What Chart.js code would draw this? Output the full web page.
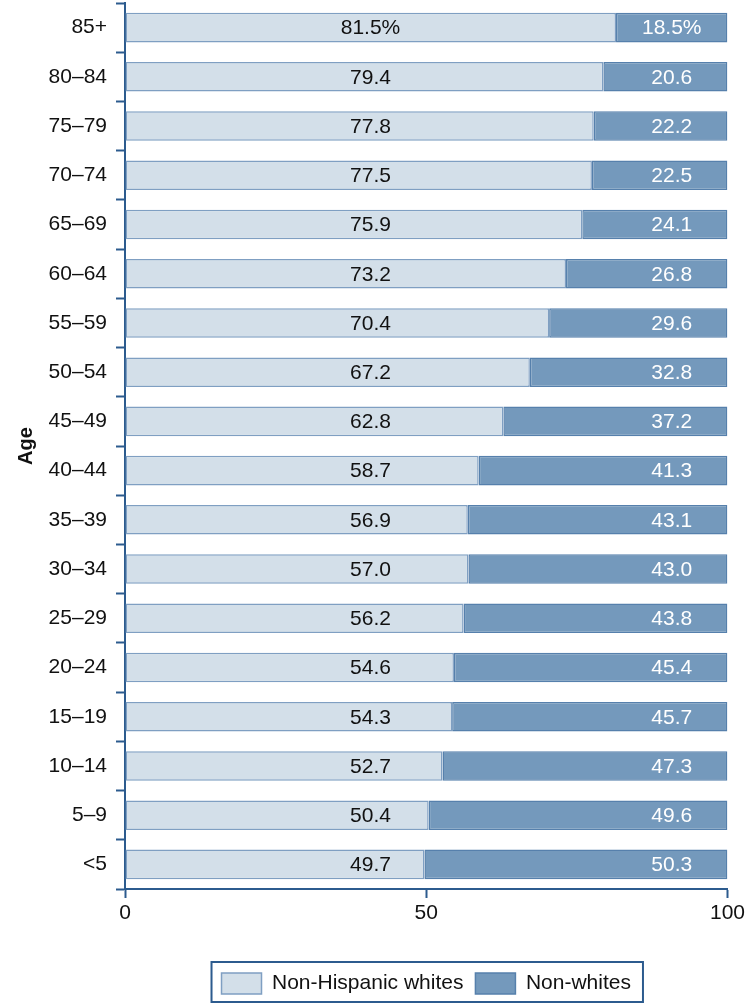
<!DOCTYPE html>
<html lang="en">
<head>
    <meta charset="UTF-8">
    <title>Age by race</title>
    <script src="https://cdn.jsdelivr.net/npm/chart.js"></script>
    <style>
        html, body { margin: 0; padding: 0; background: #fff; }
        #wrap { width: 748px; height: 1004px; }
    </style>
</head>
<body>
    <div id="wrap"><canvas id="ageChart" width="748" height="1004"></canvas></div>

    <script>
        const ageGroups = ['85+', '80\u201384', '75\u201379', '70\u201374', '65\u201369', '60\u201364', '55\u201359', '50\u201354',
            '45\u201349', '40\u201344', '35\u201339', '30\u201334', '25\u201329', '20\u201324', '15\u201319', '10\u201314', '5\u20139', '<5'];
        const nonHispanicWhites = [81.5, 79.4, 77.8, 77.5, 75.9, 73.2, 70.4, 67.2, 62.8, 58.7, 56.9, 57.0, 56.2, 54.6, 54.3, 52.7, 50.4, 49.7];
        const nonWhites = [18.5, 20.6, 22.2, 22.5, 24.1, 26.8, 29.6, 32.8, 37.2, 41.3, 43.1, 43.0, 43.8, 45.4, 45.7, 47.3, 49.6, 50.3];
        const xTicks = [0, 50, 100];

        const axisColor = '#2c5b8e';
        const font = { family: "'Liberation Sans', Arial, Helvetica, sans-serif", size: 21 };

        // value labels sit at the centres of the top row's two segments
        const barLabels = {
            id: 'barLabels',
            afterDatasetsDraw(chart) {
                const ctx = chart.ctx;
                const x = chart.scales.x;
                const leftX = x.getPixelForValue(nonHispanicWhites[0] / 2);
                const rightX = x.getPixelForValue(nonHispanicWhites[0] + nonWhites[0] / 2);
                const meta = chart.getDatasetMeta(0);
                ctx.save();
                ctx.font = `${font.size}px ${font.family}`;
                ctx.textAlign = 'center';
                ctx.textBaseline = 'middle';
                meta.data.forEach((bar, i) => {
                    const suffix = i === 0 ? '%' : '';
                    ctx.fillStyle = '#111';
                    ctx.fillText(nonHispanicWhites[i].toFixed(1) + suffix, leftX, bar.y + 1);
                    ctx.fillStyle = '#fff';
                    ctx.fillText(nonWhites[i].toFixed(1) + suffix, rightX, bar.y + 1);
                });
                ctx.restore();
            }
        };

        // frame around the legend
        const legendFrame = {
            id: 'legendFrame',
            afterDraw(chart) {
                const boxes = chart.legend.legendHitBoxes;
                if (!boxes || !boxes.length) return;
                const left = Math.min(...boxes.map(b => b.left)) - 10;
                const right = Math.max(...boxes.map(b => b.left + b.width)) + 12;
                const top = Math.min(...boxes.map(b => b.top)) - 11;
                const bottom = Math.max(...boxes.map(b => b.top + b.height)) + 8;
                const ctx = chart.ctx;
                ctx.save();
                ctx.strokeStyle = axisColor;
                ctx.lineWidth = 2;
                ctx.strokeRect(left, top, right - left, bottom - top);
                ctx.restore();
            }
        };

        new Chart(document.getElementById('ageChart'), {
            type: 'bar',
            data: {
                labels: ageGroups,
                datasets: [{
                    label: 'Non-Hispanic whites',
                    data: nonHispanicWhites,
                    backgroundColor: '#d3dfe9',
                    borderColor: '#7f9fc2',
                    borderWidth: 1.5,
                    borderSkipped: false,
                    barPercentage: 0.6,
                    categoryPercentage: 1
                }, {
                    label: 'Non-whites',
                    data: nonWhites,
                    backgroundColor: '#7499bc',
                    borderColor: '#5680ac',
                    borderWidth: 1.5,
                    borderSkipped: false,
                    barPercentage: 0.6,
                    categoryPercentage: 1
                }]
            },
            options: {
                indexAxis: 'y',
                responsive: false,
                animation: false,
                layout: { padding: { top: 3, right: 19, left: 0, bottom: 0 } },
                plugins: {
                    tooltip: { enabled: false },
                    legend: {
                        position: 'bottom',
                        fullSize: false,
                        labels: {
                            boxWidth: 40,
                            boxHeight: 21,
                            padding: 12,
                            color: '#111',
                            font: font
                        }
                    }
                },
                scales: {
                    x: {
                        stacked: true,
                        min: 0,
                        max: 100,
                        afterBuildTicks: s => { s.ticks = xTicks.map(v => ({ value: v })); },
                        afterFit: s => { s.height = 72; },
                        ticks: { color: '#111', font: font, padding: 3, maxRotation: 0 },
                        grid: { drawOnChartArea: false, drawTicks: true, tickLength: 9, tickColor: axisColor, tickWidth: 2 },
                        border: { color: axisColor, width: 2 }
                    },
                    y: {
                        stacked: true,
                        afterFit: s => { s.width = 125; s.paddingTop = 0; s.paddingBottom = 0; },
                        ticks: { color: '#111', font: font, padding: 9 },
                        grid: { offset: true, drawOnChartArea: false, drawTicks: true, tickLength: 9, tickColor: axisColor, tickWidth: 2 },
                        border: { color: axisColor, width: 2 },
                        title: {
                            display: true,
                            text: 'Age',
                            color: '#111',
                            font: { family: font.family, size: 20, weight: 'bold' },
                            padding: { top: 14, bottom: 0 }
                        }
                    }
                }
            },
            plugins: [barLabels, legendFrame]
        });
    </script>
</body>
</html>
